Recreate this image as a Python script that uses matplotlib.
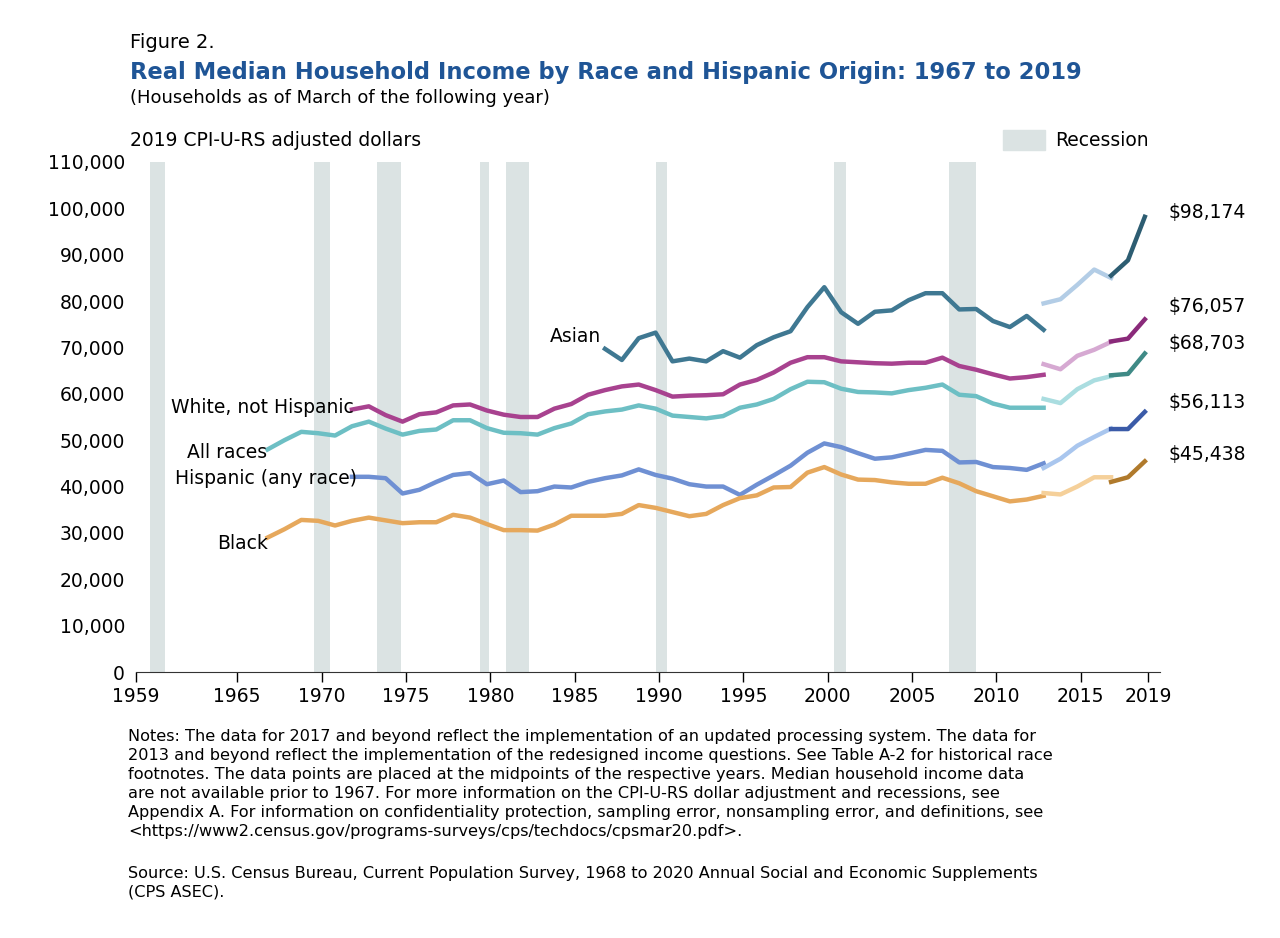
import matplotlib
matplotlib.use("Agg")
import matplotlib.pyplot as plt
from matplotlib.patches import Rectangle

plt.rcParams["font.family"] = ["DejaVu Sans"]

# ---- data (2019 dollars) ----------------------------------------------------
years_old = list(range(1967, 2014))
years_mid = list(range(2013, 2018))
years_new = [2017, 2018, 2019]

all_old = [48000, 50000, 51800, 51500, 51000, 53000, 54000, 52500, 51200, 52000,
           52300, 54300, 54300, 52600, 51600, 51500, 51200, 52600, 53600, 55600,
           56200, 56600, 57500, 56800, 55300, 55000, 54700, 55200, 57000, 57700,
           58900, 61000, 62600, 62500, 61100, 60400, 60300, 60100, 60800, 61300,
           62000, 59800, 59500, 57900, 57000, 57000, 57000]
all_mid = [58900, 58000, 61000, 62900, 63800]
all_new = [64000, 64300, 68703]

asian_start = 1987
asian_old = [69700, 67300, 72000, 73200, 67000, 67600, 67000, 69200, 67800, 70500,
             72200, 73500, 78700, 83000, 77600, 75100, 77700, 78000, 80200, 81700,
             81700, 78200, 78300, 75700, 74400, 76800, 73800]
asian_mid = [79500, 80400, 83500, 86800, 85000]
asian_new = [85500, 88800, 98174]

white_start = 1972
white_old = [56600, 57300, 55400, 54000, 55600, 56000, 57500, 57700, 56400, 55500,
             55000, 55000, 56800, 57800, 59800, 60800, 61600, 62000, 60800, 59400,
             59600, 59700, 59900, 62000, 63000, 64600, 66700, 67900, 67900, 67000,
             66800, 66600, 66500, 66700, 66700, 67800, 66000, 65200, 64200, 63300,
             63600, 64100]
white_mid = [66400, 65300, 68200, 69500, 71200]
white_new = [71300, 71900, 76057]

hisp_start = 1972
hisp_old = [42100, 42100, 41800, 38500, 39300, 41000, 42500, 42900, 40500, 41300,
            38800, 39000, 40000, 39800, 41000, 41800, 42400, 43700, 42500, 41700,
            40500, 40000, 40000, 38200, 40400, 42400, 44500, 47300, 49300, 48500,
            47200, 46000, 46300, 47100, 47900, 47700, 45200, 45300, 44200, 44000,
            43600, 45000]
hisp_mid = [44000, 46000, 48800, 50700, 52500]
hisp_new = [52400, 52400, 56113]

black_old = [29000, 30800, 32800, 32600, 31600, 32600, 33300, 32700, 32100, 32300,
             32300, 33900, 33300, 31900, 30600, 30600, 30500, 31800, 33700, 33700,
             33700, 34100, 36000, 35400, 34500, 33600, 34100, 36000, 37500, 38100,
             39800, 39900, 43000, 44200, 42600, 41500, 41400, 40900, 40600, 40600,
             41900, 40700, 39000, 37900, 36800, 37200, 38000]
black_mid = [38600, 38300, 40000, 42000, 42000]
black_new = [41000, 42000, 45438]

recessions = [(1959.83, 1960.72), (1969.53, 1970.48), (1973.3, 1974.7),
              (1979.4, 1979.95), (1980.95, 1982.3), (1989.85, 1990.5),
              (2000.4, 2001.1), (2007.2, 2008.8)]

end_labels = ["$98,174", "$76,057", "$68,703", "$56,113", "$45,438"]
end_label_y = [99100, 78900, 70900, 58200, 47000]

series = [
    ("Asian", asian_start, asian_old, asian_mid, asian_new, ("#3f7892", "#b3cde6", "#2d5d72")),
    ("White", white_start, white_old, white_mid, white_new, ("#a8428f", "#d6a9d2", "#8a2a7a")),
    ("All", 1967, all_old, all_mid, all_new, ("#6dbfc4", "#aadde0", "#3f8a86")),
    ("Hisp", hisp_start, hisp_old, hisp_mid, hisp_new, ("#6f90d3", "#a9c6ee", "#3b5ba8")),
    ("Black", 1967, black_old, black_mid, black_new, ("#e6a85c", "#f5d09a", "#b07a2c")),
]

OFF = -0.2  # data points sit at year midpoints

W, H = 1280, 938
fig = plt.figure(figsize=(12.8, 9.38), dpi=100)
ax = fig.add_axes([136 / W, 1 - 672 / H, (1160 - 136) / W, (672 - 162) / H])


def ftext(x, y, s, **kw):
    fig.text(x / W, 1 - y / H, s, **kw)


for a, b in recessions:
    ax.axvspan(a, b, color="#dbe3e3", lw=0, zorder=0)

for name, start, old, mid, new, cols in series:
    xo = [start + i + OFF for i in range(len(old))]
    ax.plot(xo, old, color=cols[0], lw=3.2)
    ax.plot([y + OFF for y in years_mid], mid, color=cols[1], lw=3.2)
    ax.plot([y + OFF for y in years_new], new, color=cols[2], lw=3.2)

ax.set_xlim(1959, 2019.7)
ax.set_ylim(0, 110000)
ax.set_xticks([1959, 1965, 1970, 1975, 1980, 1985, 1990, 1995, 2000, 2005, 2010, 2015, 2019])
ax.set_yticks(range(0, 110001, 10000))
ax.set_yticklabels([f"{v:,}" for v in range(0, 110001, 10000)])
ax.tick_params(axis="y", length=0, labelsize=13.5, pad=8)
ax.tick_params(axis="x", length=7, width=1, labelsize=13.5, direction="out")
for s in ["top", "right", "left"]:
    ax.spines[s].set_visible(False)
ax.spines["bottom"].set_color("#333333")

for lab, yv in zip(end_labels, end_label_y):
    ax.text(2020.2, yv, lab, fontsize=13.5, va="center", ha="left", clip_on=False)

ax.text(1986.6, 72300, "Asian", fontsize=13.5, ha="right", va="center")
ax.text(1971.9, 57000, "White, not Hispanic", fontsize=13.5, ha="right", va="center")
ax.text(1966.8, 47300, "All races", fontsize=13.5, ha="right", va="center")
ax.text(1972.1, 41800, "Hispanic (any race)", fontsize=13.5, ha="right", va="center")
ax.text(1966.8, 27800, "Black", fontsize=13.5, ha="right", va="center")

ftext(130, 42, "Figure 2.", fontsize=14, va="center")
ftext(130, 72, "Real Median Household Income by Race and Hispanic Origin: 1967 to 2019",
      fontsize=16.3, fontweight="bold", color="#1f5596", va="center")
ftext(130, 98, "(Households as of March of the following year)", fontsize=13, va="center")
ftext(130, 140, "2019 CPI-U-RS adjusted dollars", fontsize=13.5, va="center")
fig.patches.append(Rectangle((1003 / W, 1 - 150 / H), 42 / W, 20 / H,
                             transform=fig.transFigure, color="#dbe3e3"))
ftext(1055, 140, "Recession", fontsize=13.5, va="center")

notes = ("Notes: The data for 2017 and beyond reflect the implementation of an updated processing system. The data for\n"
         "2013 and beyond reflect the implementation of the redesigned income questions. See Table A-2 for historical race\n"
         "footnotes. The data points are placed at the midpoints of the respective years. Median household income data\n"
         "are not available prior to 1967. For more information on the CPI-U-RS dollar adjustment and recessions, see\n"
         "Appendix A. For information on confidentiality protection, sampling error, nonsampling error, and definitions, see\n"
         "<https://www2.census.gov/programs-surveys/cps/techdocs/cpsmar20.pdf>.")
ftext(128, 729, notes, fontsize=11.6, va="top", linespacing=1.33)
ftext(128, 866, "Source: U.S. Census Bureau, Current Population Survey, 1968 to 2020 Annual Social and Economic Supplements\n(CPS ASEC).",
      fontsize=11.6, va="top", linespacing=1.33)

fig.savefig("out.png", dpi=100)
